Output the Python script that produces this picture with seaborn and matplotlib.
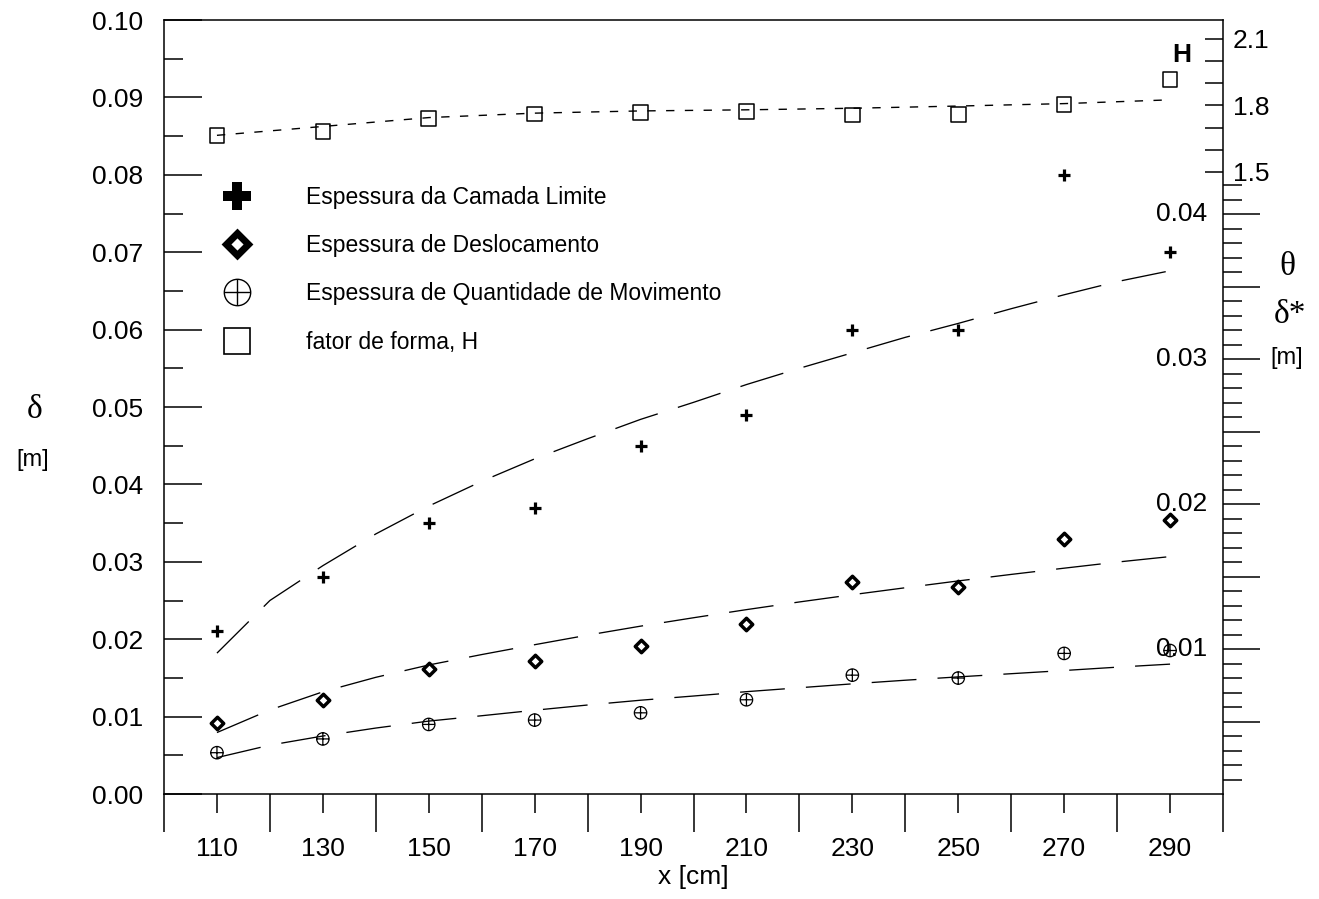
import numpy as np
import matplotlib
matplotlib.use("Agg")
import matplotlib.pyplot as plt
import matplotlib.ticker as mticker
from matplotlib.lines import Line2D
from matplotlib.path import Path
from matplotlib.transforms import blended_transform_factory
import seaborn as sns

# Measuring stations along the plate [cm]
x_cm = [110, 130, 150, 170, 190, 210, 230, 250, 270, 290]

# Measured thicknesses [m] and shape factor
delta = [0.021, 0.028, 0.035, 0.037, 0.045, 0.049, 0.060, 0.060, 0.080, 0.070]
delta_star = [0.0049, 0.0065, 0.0086, 0.0092, 0.0102, 0.0117, 0.0146, 0.0143, 0.0176, 0.0189]
theta = [0.00285, 0.0038, 0.0048, 0.0051, 0.0056, 0.0065, 0.0082, 0.0080, 0.0097, 0.0099]
shape_H = [1.663, 1.682, 1.742, 1.762, 1.769, 1.773, 1.757, 1.759, 1.804, 1.916]

# Fitted trend curves
x_fit = [110, 120, 130, 140, 150, 160, 170, 180, 190, 200,
         210, 220, 230, 240, 250, 260, 270, 280, 290]
delta_fit = [0.0182, 0.0250, 0.0295, 0.0336, 0.0372, 0.0404, 0.0433, 0.0459, 0.0484, 0.0506,
             0.0529, 0.0550, 0.0570, 0.0590, 0.0608, 0.0627, 0.0645, 0.0662, 0.0676]
delta_star_fit = [0.00424, 0.00580, 0.00705, 0.00805, 0.00890, 0.00962, 0.01030, 0.01096, 0.01158,
                  0.01216, 0.01272, 0.01325, 0.01375, 0.01423, 0.01470, 0.01515, 0.01558,
                  0.01600, 0.01638]
theta_fit = [0.00251, 0.00337, 0.00400, 0.00455, 0.00503, 0.00540, 0.00578, 0.00614, 0.00647,
             0.00676, 0.00706, 0.00733, 0.00760, 0.00785, 0.00808, 0.00830, 0.00852,
             0.00875, 0.00896]
H_fit = [1.665, 1.705, 1.745, 1.765, 1.775, 1.780, 1.787, 1.797, 1.808, 1.825]

legend_labels = ["Espessura da Camada Limite", "Espessura de Deslocamento",
                 "Espessura de Quantidade de Movimento", "fator de forma, H"]

sns.set_theme(style="white")
plt.rcParams["font.family"] = ["Liberation Sans", "DejaVu Sans"]
plt.rcParams["axes.linewidth"] = 1.1
plt.rcParams["axes.edgecolor"] = "black"
plt.rcParams["text.color"] = "black"
plt.rcParams["axes.labelcolor"] = "black"
plt.rcParams["xtick.color"] = "black"
plt.rcParams["ytick.color"] = "black"
plt.rcParams["xtick.labelcolor"] = "black"
plt.rcParams["ytick.labelcolor"] = "black"

SANS = ["Liberation Sans", "DejaVu Sans"]
SERIF = ["Liberation Serif", "DejaVu Serif"]
PX = 0.72  # points per pixel at 100 dpi
TICK_FS = 19

# circle with a cross marker
_c = Path.unit_circle()
oplus = Path(np.concatenate([_c.vertices, [[-1, 0], [1, 0], [0, -1], [0, 1]]]),
             np.concatenate([_c.codes, [Path.MOVETO, Path.LINETO, Path.MOVETO, Path.LINETO]]))

fig = plt.figure(figsize=(13.19, 8.99), dpi=100)
W, Hh = 1319, 899
left, right, top, bottom = 164, 1223, 20, 794
ax = fig.add_axes([left / W, (Hh - bottom) / Hh, (right - left) / W, (bottom - top) / Hh])
ax2 = ax.twinx()
ax3 = ax.twinx()
for a in (ax2, ax3):
    a.patch.set_visible(False)
    for s in a.spines.values():
        s.set_visible(False)

# ---- boundary layer thickness (left axis)
sns.lineplot(x=x_fit, y=delta_fit, ax=ax, color="black", lw=0.95,
             linestyle=(0, (34, 16)), estimator=None, sort=False)
sns.scatterplot(x=x_cm, y=delta, ax=ax, marker="+", s=85, color="black",
                linewidth=2.3, zorder=5)

# ---- displacement and momentum thickness (right axis)
sns.lineplot(x=x_fit, y=delta_star_fit, ax=ax2, color="black", lw=0.95,
             linestyle=(0, (34, 16)), estimator=None, sort=False)
sns.lineplot(x=x_fit, y=theta_fit, ax=ax2, color="black", lw=0.95,
             linestyle=(0, (34, 16)), estimator=None, sort=False)
sns.scatterplot(x=x_cm, y=delta_star, ax=ax2, marker="D", s=40, facecolor="white",
                edgecolor="black", linewidth=2.5, zorder=5)
sns.scatterplot(x=x_cm, y=theta, ax=ax2, marker=oplus, s=80, facecolor="none",
                edgecolor="black", linewidth=0.9, zorder=5)

# ---- shape factor (upper right scale)
sns.lineplot(x=x_cm, y=H_fit, ax=ax3, color="black", lw=1.0,
             linestyle=(0, (6, 7.5)), estimator=None, sort=False)
sns.scatterplot(x=x_cm, y=shape_H, ax=ax3, marker="s", s=110, facecolor="none",
                edgecolor="black", linewidth=1.1, zorder=5)

# ---- x axis
ax.set_xlim(100, 300)
ax.xaxis.set_major_locator(mticker.MultipleLocator(20))
ax.xaxis.set_major_formatter(mticker.NullFormatter())
ax.xaxis.set_minor_locator(mticker.FixedLocator(x_cm))
ax.xaxis.set_minor_formatter(mticker.FixedFormatter([str(v) for v in x_cm]))
ax.tick_params(axis="x", which="major", direction="out", length=38 * PX, width=1.1,
               color="black", bottom=True, top=False)
ax.tick_params(axis="x", which="minor", direction="out", length=19 * PX, width=1.1,
               color="black", bottom=True, labelbottom=True, labelsize=TICK_FS, pad=17)
ax.set_xlabel("x [cm]", fontsize=TICK_FS, labelpad=3)

# ---- left axis
ax.set_ylim(0, 0.10)
ax.yaxis.set_major_locator(mticker.MultipleLocator(0.01))
ax.yaxis.set_minor_locator(mticker.MultipleLocator(0.005))
ax.yaxis.set_major_formatter(mticker.FormatStrFormatter("%.2f"))
ax.tick_params(axis="y", which="major", direction="in", length=38 * PX, width=1.1,
               color="black", left=True, right=False, labelsize=TICK_FS, pad=15)
ax.tick_params(axis="y", which="minor", direction="in", length=19 * PX, width=1.1,
               color="black", left=True, right=False)
ax.set_ylabel("")

# ---- right axis for delta* and theta
ax2.set_ylim(0, 0.0534)
major_t = [0.005 * k for k in range(1, 9)]
minor_t = [0.001 * k for k in range(1, 43) if k % 5]
ax2.yaxis.set_major_locator(mticker.FixedLocator(major_t))
ax2.yaxis.set_minor_locator(mticker.FixedLocator(minor_t))
ax2.tick_params(axis="y", which="major", direction="out", length=37 * PX, width=1.1,
                color="black", right=True, left=False, labelright=False, labelleft=False)
ax2.tick_params(axis="y", which="minor", direction="out", length=19 * PX, width=1.1,
                color="black", right=True, left=False)
ax2.set_ylabel("")
tr2 = blended_transform_factory(ax2.transAxes, ax2.transData)
for v in [0.01, 0.02, 0.03, 0.04]:
    ax2.text((1207 - left) / (right - left), v, f"{v:.2f}", transform=tr2,
             ha="right", va="center", fontsize=TICK_FS, family=SANS)

# ---- H scale in the upper right
ax3.set_ylim(-1.305, 2.185)
h_ticks = [1.5, 1.6, 1.7, 1.8, 1.9, 2.0, 2.1]
ax3.yaxis.set_major_locator(mticker.FixedLocator(h_ticks))
ax3.yaxis.set_major_formatter(mticker.FixedFormatter(
    ["1.5", "", "", "1.8", "", "", "2.1"]))
ax3.yaxis.set_minor_locator(mticker.NullLocator())
ax3.tick_params(axis="y", which="major", direction="in", length=18 * PX, width=1.1,
                color="black", right=True, left=False, labelright=True, labelleft=False,
                labelsize=TICK_FS, pad=7)
ax3.set_ylabel("")
ax3.text((1182 - left) / (right - left), (bottom - 55) / (bottom - top), "H",
         transform=ax3.transAxes, ha="center", va="center", fontsize=19,
         fontweight="bold", family=SANS)

for s in ax.spines.values():
    s.set_visible(True)
    s.set_color("black")
    s.set_linewidth(1.1)

# ---- axis titles
fig.text(35 / W, 1 - 410 / Hh, "δ", fontsize=24, family=SERIF, ha="center", va="center")
fig.text(33 / W, 1 - 460 / Hh, "[m]", fontsize=17, family=SANS, ha="center", va="center")
fig.text(1287 / W, 1 - 267 / Hh, "θ", fontsize=24, family=SERIF, ha="center", va="center")
fig.text(1290 / W, 1 - 315 / Hh, "δ*", fontsize=24, family=SERIF, ha="center", va="center")
fig.text(1287 / W, 1 - 358 / Hh, "[m]", fontsize=17, family=SANS, ha="center", va="center")

# ---- legend
handles = [
    Line2D([], [], ls="none", marker="P", ms=20, color="black", mew=0),
    Line2D([], [], ls="none", marker="D", ms=11, mfc="white", mec="black", mew=5),
    Line2D([], [], ls="none", marker=oplus, ms=19, mfc="none", mec="black", mew=1.0),
    Line2D([], [], ls="none", marker="s", ms=19, mfc="none", mec="black", mew=1.2),
]
leg = ax.legend(handles, legend_labels, loc="upper left", frameon=False,
                bbox_to_anchor=((214 - left) / (right - left), (bottom - 186) / (bottom - top)),
                borderaxespad=0, borderpad=0, fontsize=16.5, handlelength=2.0,
                handletextpad=2.0, labelspacing=1.1, numpoints=1)

fig.savefig("out.png", dpi=100)
